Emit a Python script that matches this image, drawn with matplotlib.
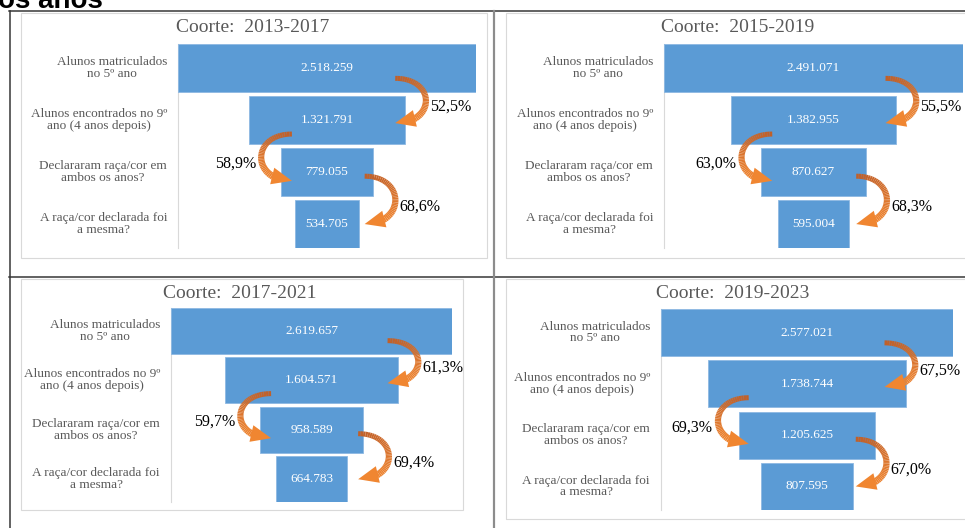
import matplotlib
matplotlib.use("Agg")
import matplotlib.pyplot as plt
import numpy as np
from matplotlib.lines import Line2D
from matplotlib.patches import Rectangle, Polygon
from matplotlib.collections import LineCollection
from matplotlib.colors import to_rgb
from matplotlib.transforms import IdentityTransform

W, H = 965, 528

# data
stages = ["Alunos matriculados\nno 5º ano",
          "Alunos encontrados no 9º\nano (4 anos depois)",
          "Declararam raça/cor em\nambos os anos?",
          "A raça/cor declarada foi\na mesma?"]

titles = ["Coorte:  2013-2017", "Coorte:  2015-2019", "Coorte:  2017-2021", "Coorte:  2019-2023"]

coorte_2013 = [2518259, 1321791, 779055, 534705]
coorte_2015 = [2491071, 1382955, 870627, 595004]
coorte_2017 = [2619657, 1604571, 958589, 664783]
coorte_2019 = [2577021, 1738744, 1205625, 807595]

taxas_2013 = ["52,5%", "58,9%", "68,6%"]
taxas_2015 = ["55,5%", "63,0%", "68,3%"]
taxas_2017 = ["61,3%", "59,7%", "69,4%"]
taxas_2019 = ["67,5%", "69,3%", "67,0%"]

values = [coorte_2013, coorte_2015, coorte_2017, coorte_2019]
rates = [taxas_2013, taxas_2015, taxas_2017, taxas_2019]

# panel boxes in pixels (left, top, right, bottom), arrow x nudges in pixels
panels = [
    dict(ax=(178, 44, 476, 248), title=(253, 27), frame=(21, 13, 487, 258), nudge=[-10, 11, 6]),
    dict(ax=(664, 44, 963, 248), title=(738, 27), frame=(506, 13, 975, 258), nudge=[-11, 11, 7]),
    dict(ax=(171, 308, 452, 502), title=(240, 294), frame=(21, 279, 463, 510), nudge=[-10, 11, 11]),
    dict(ax=(661, 309, 953, 510), title=(733, 294), frame=(506, 279, 975, 519), nudge=[-21, 10, 3]),
]

BLUE = "#5B9BD5"
GRAY = "#595959"
ORANGE_DARK = "#C0602A"
ORANGE = "#F08631"
SERIF = "Liberation Serif"

fig = plt.figure(figsize=(W / 100, H / 100), dpi=100)


def px(x, y):
    return x / W, 1 - y / H


def fig_line(xs, ys, color, lw):
    pts = [px(x, y) for x, y in zip(xs, ys)]
    fig.add_artist(Line2D([p[0] for p in pts], [p[1] for p in pts], color=color,
                          lw=lw * 0.72, transform=fig.transFigure))


def curved_arrow(ax, x_edge, y_start, y_tip, side, off, label):
    # geometry in display pixels
    ex = ax.transData.transform((x_edge, 0))[0] + off
    ys = ax.transData.transform((0, y_start))[1]
    yt = ax.transData.transform((0, y_tip))[1]
    b = 41 * side
    P = np.array([[ex, ys], [ex + b, ys], [ex + b, yt], [ex, yt]])

    def bez(t):
        t = np.asarray(t)[:, None]
        return ((1 - t) ** 3 * P[0] + 3 * t * (1 - t) ** 2 * P[1]
                + 3 * t ** 2 * (1 - t) * P[2] + t ** 3 * P[3])

    th = 0.8
    t = np.linspace(0, th + 0.03, 40)
    pts = bez(t)
    segs = np.stack([pts[:-1], pts[1:]], axis=1)
    c0, c1 = np.array(to_rgb(ORANGE_DARK)), np.array(to_rgb(ORANGE))
    f = np.linspace(0, 1, len(segs))[:, None]
    cols = c0 * (1 - f) + c1 * f
    widths = np.linspace(5, 7, len(segs)) * 0.72
    lc = LineCollection(segs, colors=cols, linewidths=widths, capstyle="butt",
                        joinstyle="round")
    lc.set_transform(IdentityTransform())
    fig.add_artist(lc)

    B = bez([th])[0]
    T = P[3]
    d = (T - B) / np.linalg.norm(T - B)
    n = np.array([-d[1], d[0]])
    head = Polygon([T, B + n * 8.5, B - n * 8.5], closed=True, color=ORANGE, lw=0)
    head.set_transform(IdentityTransform())
    fig.add_artist(head)

    ly = ys + 0.64 * (yt - ys)
    if side > 0:
        fig.text((ex + 35) / W, ly / H, label, ha="left", va="center",
                 fontsize=11.5, family=SERIF, color="black")
    else:
        fig.text((ex - 36) / W, ly / H, label, ha="right", va="center",
                 fontsize=11.5, family=SERIF, color="black")


# table lines of the document
fig_line([9, 965], [11, 11], "#333333", 1.5)
fig_line([10, 10], [11, 528], "#333333", 1.5)
fig_line([9, 965], [277, 277], "#333333", 1.5)
fig_line([493.5, 493.5], [11, 528], "#8C8C8C", 2.2)

# cut-off caption above the table
fig.text(-2 / W, 1 - 7.5 / H, "os anos", fontsize=20, fontweight="bold",
         family="Liberation Sans", va="baseline", ha="left")

arrow_sides = [1, -1, 1]
start_shift = [0.2, 0.27, 0.08]
tip_shift = [0.06, 0.17, 0.0]

for vals, taxas, title, p in zip(values, rates, titles, panels):
    fl, ft, fr, fb = p["frame"]
    x0, y0 = px(fl, fb)
    fig.add_artist(Rectangle((x0, y0), (fr - fl) / W, (fb - ft) / H, fill=False,
                             edgecolor="#D9D9D9", lw=0.8, transform=fig.transFigure))

    l, t, r, b = p["ax"]
    ax = fig.add_axes([l / W, 1 - b / H, (r - l) / W, (b - t) / H])
    v = np.array(vals, dtype=float)
    rows = np.arange(len(v))
    ax.barh(rows, v, left=-v / 2, height=0.92, color=BLUE,
            edgecolor="#8DB8E2", linewidth=0.6, zorder=3)
    ax.set_xlim(-v[0] / 2, v[0] / 2)
    ax.set_ylim(len(v) - 0.54, -0.46)
    ax.set_xticks([])
    ax.set_yticks([])
    for s in ["top", "right", "bottom"]:
        ax.spines[s].set_visible(False)
    ax.spines["left"].set_color("#D9D9D9")
    ax.spines["left"].set_linewidth(0.8)
    ax.patch.set_alpha(0)

    for i, val in enumerate(vals):
        ax.text(0, i, f"{val:,}".replace(",", "."), ha="center", va="center",
                color="white", fontsize=9.5, family=SERIF, zorder=4)
        ax.annotate(stages[i], xy=(0, i), xycoords=ax.get_yaxis_transform(),
                    xytext=(-11, 0), textcoords="offset pixels", ha="right",
                    va="center", multialignment="center", fontsize=9.5,
                    linespacing=0.95, family=SERIF, color=GRAY)

    tx, ty = px(*p["title"])
    fig.text(tx, ty, title, ha="center", va="center", fontsize=14,
             family=SERIF, color=GRAY)

    for k in range(3):
        side = arrow_sides[k]
        nxt = v[k + 1]
        edge = nxt / 2 if side > 0 else -nxt / 2
        curved_arrow(ax, edge, k + start_shift[k], k + 1 + tip_shift[k], side,
                     p["nudge"][k], taxas[k])

fig.savefig("out.png", dpi=100)
